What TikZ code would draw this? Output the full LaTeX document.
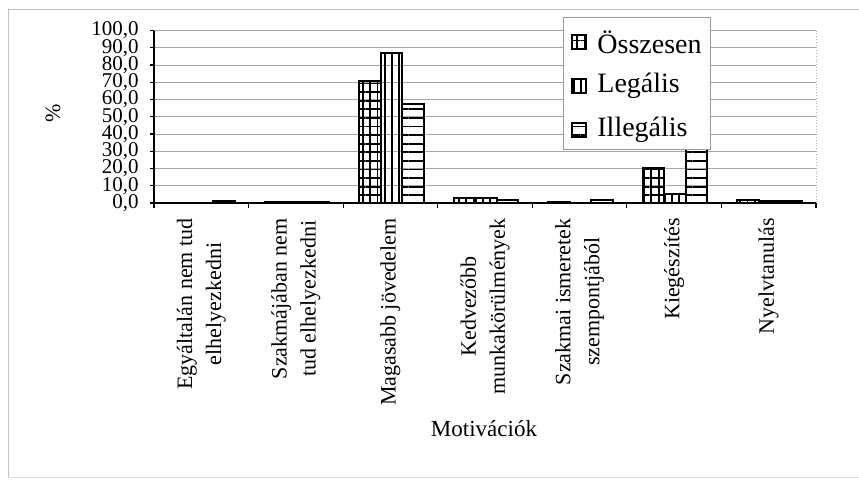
\documentclass[tikz,border=0pt]{standalone}
\usepackage{fontspec}
\setmainfont{Liberation Serif}
\usetikzlibrary{patterns.meta}

\begin{document}
\begin{tikzpicture}[
    x=0.5pt, y=-0.5pt,
    gridline/.style={gray!70, line width=0.4pt},
    axisline/.style={black, line width=0.6pt},
    osszesen/.style={draw=black, line width=1pt,
        pattern={Lines[angle=90, distance=3.7pt, line width=0.9pt]},
        postaction={pattern={Lines[angle=0, distance=4.3pt, line width=0.9pt]}}},
    legalis/.style={draw=black, line width=1pt,
        pattern={Lines[angle=90, distance=3.5pt, line width=0.9pt]}},
    illegalis/.style={draw=black, line width=1pt,
        pattern={Lines[angle=0, distance=4.3pt, line width=0.9pt]}},
    ticklabel/.style={font=\fontsize{10.5}{12}\selectfont, anchor=east, inner sep=0pt},
    catlabel/.style={font=\fontsize{11}{14.5}\selectfont, rotate=90, anchor=east, align=center, inner sep=0pt},
    legendtext/.style={font=\fontsize{14}{16}\selectfont, anchor=west, inner sep=0pt},
    legendmark/.style={minimum size=7pt, inner sep=0pt}
]
\useasboundingbox (0,0) rectangle (859,479);

% Frame
\draw[gray!50, line width=0.4pt] (8,478) -- (8,9) -- (859,9);
\draw[gray!25, line width=0.4pt] (8,477) -- (859,477);

% Grid
\foreach \v in {10,20,...,100}
    \draw[gridline] (154,{203-1.725*\v}) -- (816,{203-1.725*\v});
\draw[gray!60, densely dotted] (816,30.5) -- (816,203);

% Bars
\foreach \i/\a/\b/\c in {0/0/0/1.2, 1/0.5/0.5/0.5, 2/70.9/86.8/57.6, 3/3.0/3.0/1.8,
                         4/0.5/0/1.8, 5/20.3/5.0/35, 6/1.5/1.2/1.2} {
    \pgfmathsetmacro\xa{170+94.57*\i}
    \draw[osszesen]  (\xa,203) rectangle ({\xa+21.5},{203-1.725*\a});
    \draw[legalis]   ({\xa+21.5},203) rectangle ({\xa+43},{203-1.725*\b});
    \draw[illegalis] ({\xa+43},203) rectangle ({\xa+64.5},{203-1.725*\c});
}

% Axes
\draw[axisline] (154,30.5) -- (154,203) -- (816,203);
\foreach \v in {0,10,...,100} {
    \draw[axisline] (150,{203-1.725*\v}) -- (154,{203-1.725*\v});
    \node[ticklabel] (ylab\v) at (139,{203-1.725*\v}) {\v,0};
}
\foreach \i in {0,...,7}
    \draw[axisline] ({154+94.57*\i},203) -- ({154+94.57*\i},208);

% Labels
\node[catlabel] (egyaltalan) at ({154+94.57*0.5},218) {Egyáltalán nem tud\\elhelyezkedni};
\node[catlabel] (szakmajaban) at ({154+94.57*1.5},218) {Szakmájában nem\\tud elhelyezkedni};
\node[catlabel] (magasabb) at ({154+94.57*2.5},218) {Magasabb jövedelem};
\node[catlabel] (kedvezobb) at ({154+94.57*3.5},218) {Kedvezőbb\\munkakörülmények};
\node[catlabel] (szakmai) at ({154+94.57*4.5},218) {Szakmai ismeretek\\szempontjából};
\node[catlabel] (kiegeszites) at ({154+94.57*5.5},218) {Kiegészítés};
\node[catlabel] (nyelv) at ({154+94.57*6.5},218) {Nyelvtanulás};

\node[font=\fontsize{11.5}{12}\selectfont] (xtitle) at (484,429) {Motivációk};
\node[font=\fontsize{11}{12}\selectfont, rotate=90] (ytitle) at (53,113) {\%};

% Legend
\node[draw=gray!80, fill=white, line width=0.5pt, anchor=north west, inner sep=0pt,
      minimum width=73.5pt, minimum height=66pt] (legend) at (563,17) {};
\node[legendmark, osszesen]  (markossz) at (579,42) {};
\node[legendmark, legalis]   (markleg)  at (579,86) {};
\node[legendmark, illegalis] (markill)  at (579,130) {};
\node[legendtext] (txtossz) at (597,42) {Összesen};
\node[legendtext] (txtleg)  at (597,86) {Legális};
\node[legendtext] (txtill)  at (597,130) {Illegális};

\end{tikzpicture}
\end{document}
